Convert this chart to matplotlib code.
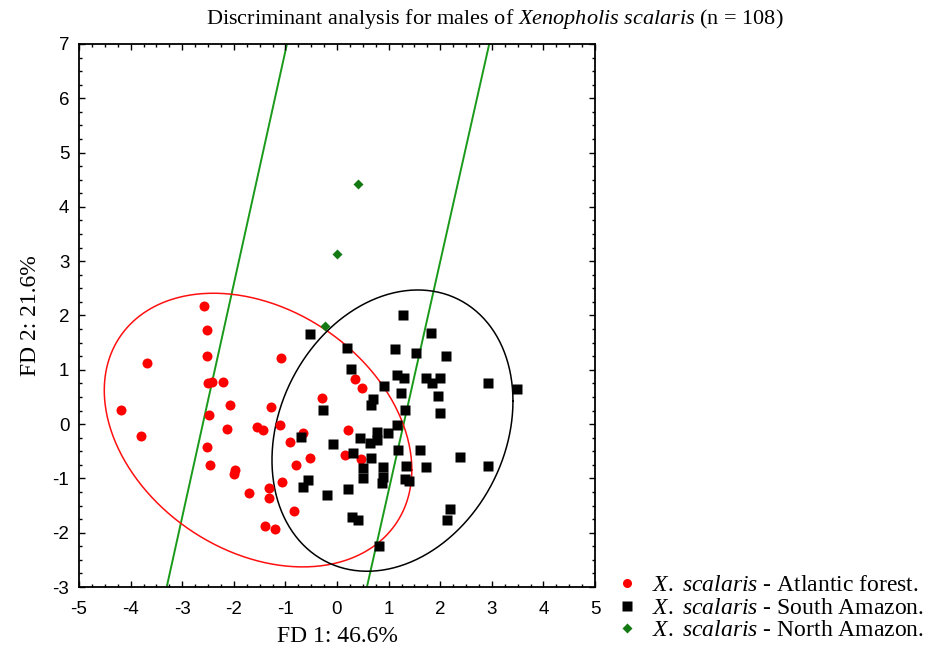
import matplotlib
matplotlib.use("Agg")
import matplotlib.pyplot as plt
from matplotlib.lines import Line2D
import numpy as np

plt.rcParams['mathtext.fontset'] = 'custom'
plt.rcParams['mathtext.rm'] = 'Liberation Serif'
plt.rcParams['mathtext.it'] = 'Liberation Serif:italic'
plt.rcParams['axes.unicode_minus'] = False

# --- datos (scores FD1 / FD2) ---
atlantic_x = [-2.58, -2.52, -2.52, -3.68, -1.09, -2.50, -2.42, -2.21, -4.19, -2.07,
              -1.28, -2.48, -2.13, -1.55, -1.43, -1.10, -3.80, -2.52, -2.46, -1.98,
              -2.00, -1.71, -1.32, -1.32, -1.07, -1.40, -1.20, -0.91, 0.35, 0.48,
              -0.29, 0.21, -0.66, -0.52, -0.79, 0.16, 0.47, -0.83]
atlantic_y = [2.18, 1.73, 1.25, 1.13, 1.22, 0.76, 0.78, 0.78, 0.26, 0.35,
              0.31, 0.17, -0.09, -0.05, -0.11, -0.01, -0.22, -0.42, -0.75, -0.85,
              -0.92, -1.27, -1.18, -1.36, -1.07, -1.88, -1.93, -0.33, 0.83, 0.66,
              0.48, -0.11, -0.16, -0.62, -0.75, -0.57, -0.64, -1.60]

south_x = [1.28, -0.52, 1.82, 0.19, 1.12, 1.53, 2.11, 0.27, 1.16, 1.30,
           1.72, 1.84, 2.00, 2.93, 3.49, 0.91, 1.24, 1.96, 0.70, 0.66,
           -0.27, 1.32, 2.00, 1.16, 0.99, 0.78, 0.78, 0.45, 0.64, -0.70,
           -0.08, 1.18, 1.61, 0.31, 0.66, 2.38, 2.93, 1.72, 1.34, 0.50,
           0.50, 0.89, 0.89, 0.87, 1.32, 1.40, -0.56, -0.66, -0.19, 0.21,
           2.19, 2.13, 0.29, 0.41, 0.81]
south_y = [2.01, 1.66, 1.68, 1.40, 1.38, 1.31, 1.25, 1.01, 0.90, 0.85,
           0.85, 0.76, 0.85, 0.76, 0.65, 0.70, 0.57, 0.52, 0.46, 0.35,
           0.26, 0.26, 0.20, -0.02, -0.16, -0.15, -0.29, -0.26, -0.35, -0.24,
           -0.37, -0.48, -0.48, -0.53, -0.62, -0.61, -0.77, -0.79, -0.77, -0.81,
           -0.99, -0.79, -0.97, -1.08, -1.01, -1.05, -1.03, -1.16, -1.31, -1.20,
           -1.56, -1.77, -1.71, -1.77, -2.25]

north_x = [0.41, 0.00, -0.23]
north_y = [4.42, 3.13, 1.81]

# elipses: centro y (var x, cov; cov, var y)
atl_center = (-1.53, -0.11)
atl_cov = [[2.98 ** 2, -2.18], [-2.18, 2.52 ** 2]]
south_center = (1.075, -0.12)
south_cov = [[2.335 ** 2, 1.27], [1.27, 2.59 ** 2]]

# rectas de clasificacion: x en y=7 y en y=-3
line_top_x = [-0.97, 2.95]
line_bottom_x = [-3.30, 0.58]
line_y = [7, -3]

labels = [r"$\mathit{X.\ scalaris}$ - Atlantic forest.",
          r"$\mathit{X.\ scalaris}$ - South Amazon.",
          r"$\mathit{X.\ scalaris}$ - North Amazon."]


def elipse(center, cov, n=400):
    t = np.linspace(0, 2 * np.pi, n)
    L = np.linalg.cholesky(np.array(cov))
    pts = L @ np.vstack([np.cos(t), np.sin(t)])
    return center[0] + pts[0], center[1] + pts[1]


fig = plt.figure(figsize=(9.35, 6.57), dpi=100)
ax = fig.add_axes([79 / 935, 70 / 657, 516 / 935, 543 / 657])

for xt, xb in zip(line_top_x, line_bottom_x):
    ax.plot([xt, xb], line_y, color='#1a9a1a', lw=1.4, zorder=1)

ex, ey = elipse(atl_center, atl_cov)
ax.plot(ex, ey, color='#ff1010', lw=1.1, zorder=2)
ex, ey = elipse(south_center, south_cov)
ax.plot(ex, ey, color='black', lw=1.1, zorder=2)

ax.plot(atlantic_x, atlantic_y, 'o', color='#ff0000', ms=7.2, mec='none', zorder=3)
ax.plot(south_x, south_y, 's', color='black', ms=7.5, mec='none', zorder=3)
ax.plot(north_x, north_y, 'D', color='#137a13', ms=5.2, mec='none', zorder=4)

ax.set_xlim(-5, 5)
ax.set_ylim(-3, 7)
ax.set_xticks(np.arange(-5, 6, 1))
ax.set_yticks(np.arange(-3, 8, 1))
ax.set_xticks(np.arange(-5, 5.01, 0.25), minor=True)
ax.set_yticks(np.arange(-3, 7.01, 0.25), minor=True)
ax.tick_params(which='both', direction='in', top=True, right=True, color='black')
ax.tick_params(which='major', length=4, width=1)
ax.tick_params(which='minor', length=2.5, width=1)
ax.tick_params(axis='x', which='major', pad=10)
ax.tick_params(axis='y', which='major', pad=7)
for lab in ax.get_xticklabels() + ax.get_yticklabels():
    lab.set_fontfamily('Liberation Sans')
    lab.set_fontsize(13.5)
for sp in ax.spines.values():
    sp.set_linewidth(1.3)

ax.set_xlabel('FD 1: 46.6%', family='Liberation Serif', fontsize=17, labelpad=6)
ax.set_ylabel('FD 2: 21.6%', family='Liberation Serif', fontsize=17, labelpad=8)
fig.text(495 / 935, 1 - 19 / 657,
         r"Discriminant analysis for males of $\mathit{Xenopholis\ scalaris}$ (n = 108)",
         family='Liberation Serif', fontsize=16, ha='center', va='center')

handles = [Line2D([], [], ls='none', marker='o', color='#ff0000', ms=6.5, mec='none'),
           Line2D([], [], ls='none', marker='s', color='black', ms=7, mec='none'),
           Line2D([], [], ls='none', marker='D', color='#137a13', ms=5, mec='none')]
fig.legend(handles, labels, loc='center left', bbox_to_anchor=(615 / 935, 49 / 657),
           frameon=False, prop={'family': 'Liberation Serif', 'size': 17},
           handlelength=1, handletextpad=0.55, labelspacing=0.05,
           borderpad=0, borderaxespad=0)

fig.savefig('out.png', dpi=100)
